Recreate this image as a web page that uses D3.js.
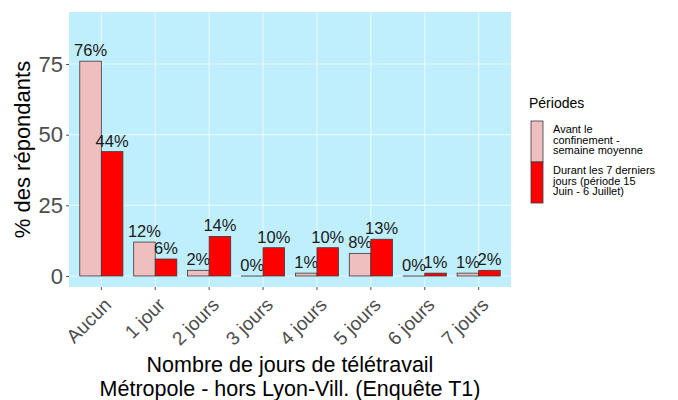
<!DOCTYPE html>
<html>
<head>
<meta charset="utf-8">
<script src="https://cdn.jsdelivr.net/npm/d3@7"></script>
<style>
body { margin: 0; background: #fff; }
svg { font-family: "Liberation Sans", Arial, sans-serif; }
</style>
</head>
<body>
<svg id="svg"></svg>
<script>
var width = 678, height = 400;
var svg = d3.select("#svg")
	.attr("width", width)
	.attr("height", height);

var categories = ["Aucun", "1 jour", "2 jours", "3 jours", "4 jours", "5 jours", "6 jours", "7 jours"];
var series = ["avant", "durant"];
var avant = [76, 12, 2, 0, 1, 8, 0, 1];
var durant = [44, 6, 14, 10, 10, 13, 1, 2];
var yTicks = [0, 25, 50, 75];
var legendLabels = [
	["Avant le", "confinement -", "semaine moyenne"],
	["Durant les 7 derniers", "jours (période 15", "Juin - 6 Juillet)"]
];

var color = d3.scaleOrdinal()
	.domain(series)
	.range(["#efbfbf", "#ff0000"]);

var pLeft = 69, pRight = 511, pTop = 12, pBottom = 287;

var x = d3.scaleBand()
	.domain(categories)
	.range([pLeft, pRight])
	.paddingInner(0)
	.paddingOuter(0.1);
var step = x.step();
var x1 = d3.scaleBand()
	.domain(series)
	.range([-0.4 * step, 0.4 * step]);
var y = d3.scaleLinear()
	.domain([-3.9, 93.4])
	.range([pBottom, pTop]);

// panel
svg.append("rect")
	.attr("x", pLeft)
	.attr("y", pTop)
	.attr("width", pRight - pLeft)
	.attr("height", pBottom - pTop)
	.style("fill", "#bfeefc");

svg.append("g")
	.selectAll("line")
	.data(yTicks)
	.enter()
	.append("line")
	.attr("x1", pLeft)
	.attr("x2", pRight)
	.attr("y1", function(d) { return y(d); })
	.attr("y2", function(d) { return y(d); })
	.style("stroke", "#ffffff")
	.style("stroke-opacity", 0.6)
	.style("stroke-width", 1.2);
svg.append("g")
	.selectAll("line")
	.data(categories)
	.enter()
	.append("line")
	.attr("x1", function(d) { return x(d) + step / 2; })
	.attr("x2", function(d) { return x(d) + step / 2; })
	.attr("y1", pTop)
	.attr("y2", pBottom)
	.style("stroke", "#ffffff")
	.style("stroke-opacity", 0.6)
	.style("stroke-width", 1.2);

// bars
var rows = [];
categories.forEach(function(c, i) {
	rows.push({ cat: c, s: "avant", v: avant[i] });
	rows.push({ cat: c, s: "durant", v: durant[i] });
});

var bar = svg.append("g")
	.selectAll("g")
	.data(rows)
	.enter()
	.append("g");
bar.append("rect")
	.attr("x", function(d) { return x(d.cat) + step / 2 + x1(d.s); })
	.attr("y", function(d) { return y(d.v); })
	.attr("width", x1.bandwidth())
	.attr("height", function(d) { return Math.max(y(0) - y(d.v), 0.1); })
	.style("fill", function(d) { return color(d.s); })
	.style("stroke", "#3a3a3a")
	.style("stroke-width", 0.8);
bar.append("text")
	.attr("x", function(d) { return x(d.cat) + step / 2 + x1(d.s) + x1.bandwidth() / 2; })
	.attr("y", function(d) { return y(d.v) - 5; })
	.style("text-anchor", "middle")
	.style("font-size", "16.5px")
	.style("fill", "#1a1a1a")
	.text(function(d) { return d.v + "%"; });

// axes
var yAxis = d3.axisLeft(y)
	.tickValues(yTicks)
	.tickSize(3)
	.tickPadding(3);
var gy = svg.append("g")
	.attr("transform", "translate(" + pLeft + ",0)")
	.call(yAxis);
gy.select(".domain").remove();
gy.selectAll("line").style("stroke", "#4d4d4d");
gy.selectAll("text")
	.style("font-size", "22px")
	.style("fill", "#4d4d4d")
	.attr("font-family", null);

var xAxis = d3.axisBottom(x)
	.tickSize(3)
	.tickPadding(0);
var gx = svg.append("g")
	.attr("transform", "translate(0," + pBottom + ")")
	.call(xAxis);
gx.select(".domain").remove();
gx.selectAll("line").style("stroke", "#4d4d4d");
gx.selectAll("text")
	.attr("font-family", null)
	.style("font-size", "19px")
	.style("fill", "#4d4d4d")
	.style("text-anchor", "end")
	.attr("y", 0)
	.attr("dy", "0.75em")
	.attr("transform", "translate(1,9) rotate(-45)");

// titles
svg.append("text")
	.attr("x", -(pTop + pBottom) / 2)
	.attr("y", 30)
	.attr("transform", "rotate(-90)")
	.style("text-anchor", "middle")
	.style("font-size", "22px")
	.text("% des répondants");
svg.append("text")
	.attr("x", (pLeft + pRight) / 2)
	.attr("y", 372)
	.style("text-anchor", "middle")
	.style("font-size", "21.5px")
	.text("Nombre de jours de télétravail");
svg.append("text")
	.attr("x", (pLeft + pRight) / 2)
	.attr("y", 396)
	.style("text-anchor", "middle")
	.style("font-size", "21.5px")
	.text("Métropole - hors Lyon-Vill. (Enquête T1)");

// legend
var legend = svg.append("g");
legend.append("text")
	.attr("x", 529)
	.attr("y", 108)
	.style("font-size", "14px")
	.text("Périodes");
var key = legend.selectAll("g")
	.data(series)
	.enter()
	.append("g")
	.attr("transform", function(d, i) { return "translate(531," + (121 + i * 41) + ")"; });
key.append("rect")
	.attr("width", 12)
	.attr("height", 41)
	.style("fill", function(d) { return color(d); })
	.style("stroke", "#3a3a3a")
	.style("stroke-width", 0.8);
key.append("text")
	.attr("x", 22)
	.attr("y", 12)
	.style("font-size", "11px")
	.selectAll("tspan")
	.data(function(d, i) { return legendLabels[i]; })
	.enter()
	.append("tspan")
	.attr("x", 22)
	.attr("dy", function(d, i) { return i === 0 ? 0 : 10.6; })
	.text(function(d) { return d; });
</script>
</body>
</html>
